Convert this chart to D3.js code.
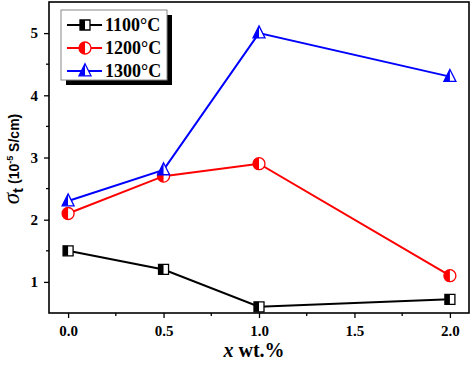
<!DOCTYPE html>
<html>
<head>
<meta charset="utf-8">
<script src="https://cdn.jsdelivr.net/npm/d3@7"></script>
<style>
  body { margin: 0; background: #fff; }
  text { font-family: "Liberation Serif", "Times New Roman", serif; font-weight: bold; }
</style>
</head>
<body>
<div id="chart"></div>
<script>
var w = 472; var h = 366;

var xValues = [0, 0.5, 1.0, 2.0];
var series = ['1100\u00B0C', '1200\u00B0C', '1300\u00B0C'];
var v1100 = [1.5, 1.2, 0.6, 0.72];
var v1200 = [2.1, 2.7, 2.9, 1.1];
var v1300 = [2.3, 2.8, 5.0, 4.3];
var xTicks = [0, 0.5, 1.0, 1.5, 2.0];
var yTicks = [1, 2, 3, 4, 5];

var colors = ['#000000', '#ff0000', '#0000ff'];
var shapes = ['square', 'circle', 'triangle'];
var allValues = [v1100, v1200, v1300];

var pLeft = 49, pRight = 469, pTop = 2, pBottom = 313;

var svg = d3.select('#chart')
			.append('svg')
			.attr('width', w)
			.attr('height', h);

var x = d3.scaleLinear().domain([-0.1, 2.1]).range([pLeft, pRight]);
var y = d3.scaleLinear().domain([0.5, 5.5]).range([pBottom, pTop]);

// axes
var xAxis = d3.axisBottom(x).tickValues(xTicks).tickFormat(d3.format('.1f')).tickSize(5).tickPadding(7);
var yAxis = d3.axisLeft(y).tickValues(yTicks).tickFormat(d3.format('d')).tickSize(5).tickPadding(6);

var gx = svg.append('g').attr('transform', 'translate(0,' + pBottom + ')').call(xAxis);
var gy = svg.append('g').attr('transform', 'translate(' + pLeft + ',0)').call(yAxis);

// minor ticks
gx.selectAll('.minor')
	.data([0.25, 0.75, 1.25, 1.75])
	.enter().append('line')
	.attr('x1', function(d) { return x(d); })
	.attr('x2', function(d) { return x(d); })
	.attr('y1', 0).attr('y2', 3)
	.attr('stroke', '#000').attr('stroke-width', 1.3);
gy.selectAll('.minor')
	.data([1.5, 2.5, 3.5, 4.5])
	.enter().append('line')
	.attr('y1', function(d) { return y(d); })
	.attr('y2', function(d) { return y(d); })
	.attr('x1', 0).attr('x2', -3)
	.attr('stroke', '#000').attr('stroke-width', 1.3);

[gx, gy].forEach(function(g) {
	g.select('.domain').remove();
	g.selectAll('.tick line').attr('stroke-width', 1.3);
	g.selectAll('.tick text')
		.style('font-family', '"Liberation Serif", serif')
		.style('font-weight', 'bold')
		.style('font-size', '15px')
		.attr('fill', '#000');
});

// frame
svg.append('rect')
	.attr('x', pLeft).attr('y', pTop)
	.attr('width', pRight - pLeft).attr('height', pBottom - pTop)
	.attr('fill', 'none').attr('stroke', '#000').attr('stroke-width', 1.6);

// marker drawing: left half filled, right half white
function drawMarker(g, shape, color, cx, cy, s) {
	var id = 'clip' + Math.round(cx) + '_' + Math.round(cy) + shape;
	var path;
	if (shape === 'square') {
		path = 'M' + (cx - s/2) + ',' + (cy - s/2) + 'h' + s + 'v' + s + 'h' + (-s) + 'Z';
	} else if (shape === 'circle') {
		var r = s / 2 + 1;
		path = 'M' + (cx - r) + ',' + cy + 'a' + r + ',' + r + ' 0 1,0 ' + (2*r) + ',0a' + r + ',' + r + ' 0 1,0 ' + (-2*r) + ',0Z';
	} else {
		var t = s + 2;
		path = 'M' + cx + ',' + (cy - t*0.6) + 'L' + (cx + t/2) + ',' + (cy + t*0.4) + 'L' + (cx - t/2) + ',' + (cy + t*0.4) + 'Z';
	}
	g.append('clipPath').attr('id', id)
		.append('rect').attr('x', cx - 20).attr('y', cy - 20).attr('width', 20).attr('height', 40);
	g.append('path').attr('d', path).attr('fill', '#fff');
	g.append('path').attr('d', path).attr('fill', color).attr('clip-path', 'url(#' + id + ')');
	g.append('path').attr('d', path).attr('fill', 'none').attr('stroke', color).attr('stroke-width', 1.3);
}

var line = d3.line()
	.x(function(d) { return x(d[0]); })
	.y(function(d) { return y(d[1]); });

allValues.forEach(function(vals, i) {
	var pts = xValues.map(function(xv, j) { return [xv, vals[j]]; });
	svg.append('path')
		.attr('d', line(pts))
		.attr('fill', 'none')
		.attr('stroke', colors[i])
		.attr('stroke-width', 2);
});
allValues.forEach(function(vals, i) {
	var g = svg.append('g');
	xValues.forEach(function(xv, j) {
		drawMarker(g, shapes[i], colors[i], x(xv), y(vals[j]), 10);
	});
});

// legend
var lg = svg.append('g');
lg.append('rect').attr('x', 66).attr('y', 15).attr('width', 106).attr('height', 70).attr('fill', '#000');
lg.append('rect').attr('x', 61).attr('y', 10).attr('width', 106).attr('height', 70)
	.attr('fill', '#fff').attr('stroke', '#888').attr('stroke-width', 1);
series.forEach(function(name, i) {
	var ly = 25 + i * 23;
	lg.append('line').attr('x1', 67).attr('x2', 102).attr('y1', ly).attr('y2', ly)
		.attr('stroke', colors[i]).attr('stroke-width', 2);
	drawMarker(lg, shapes[i], colors[i], 85, ly, 10);
	lg.append('text').attr('x', 105).attr('y', ly + 6)
		.style('font-size', '18px').attr('fill', '#000').text(name);
});

// axis labels
svg.append('text')
	.attr('x', 254).attr('y', 357)
	.attr('text-anchor', 'middle')
	.style('font-size', '20px')
	.html('<tspan font-style="italic">x</tspan> wt.%');

var yl = svg.append('text')
	.attr('transform', 'translate(19,159) rotate(-90)')
	.attr('text-anchor', 'middle');
yl.append('tspan').style('font-style', 'italic').style('font-weight', 'normal').style('font-size', '23px').text('\u03C3');
yl.append('tspan').attr('dy', 4).style('font-family', '"Liberation Sans", Arial, sans-serif').style('font-size', '15px').text('t');
yl.append('tspan').attr('dy', -4).style('font-family', '"Liberation Sans", Arial, sans-serif').style('font-size', '14px').text(' (10');
yl.append('tspan').attr('dy', -6).style('font-family', '"Liberation Sans", Arial, sans-serif').style('font-size', '9px').text('-5');
yl.append('tspan').attr('dy', 6).style('font-family', '"Liberation Sans", Arial, sans-serif').style('font-size', '14px').text(' S/cm)');
</script>
</body>
</html>
